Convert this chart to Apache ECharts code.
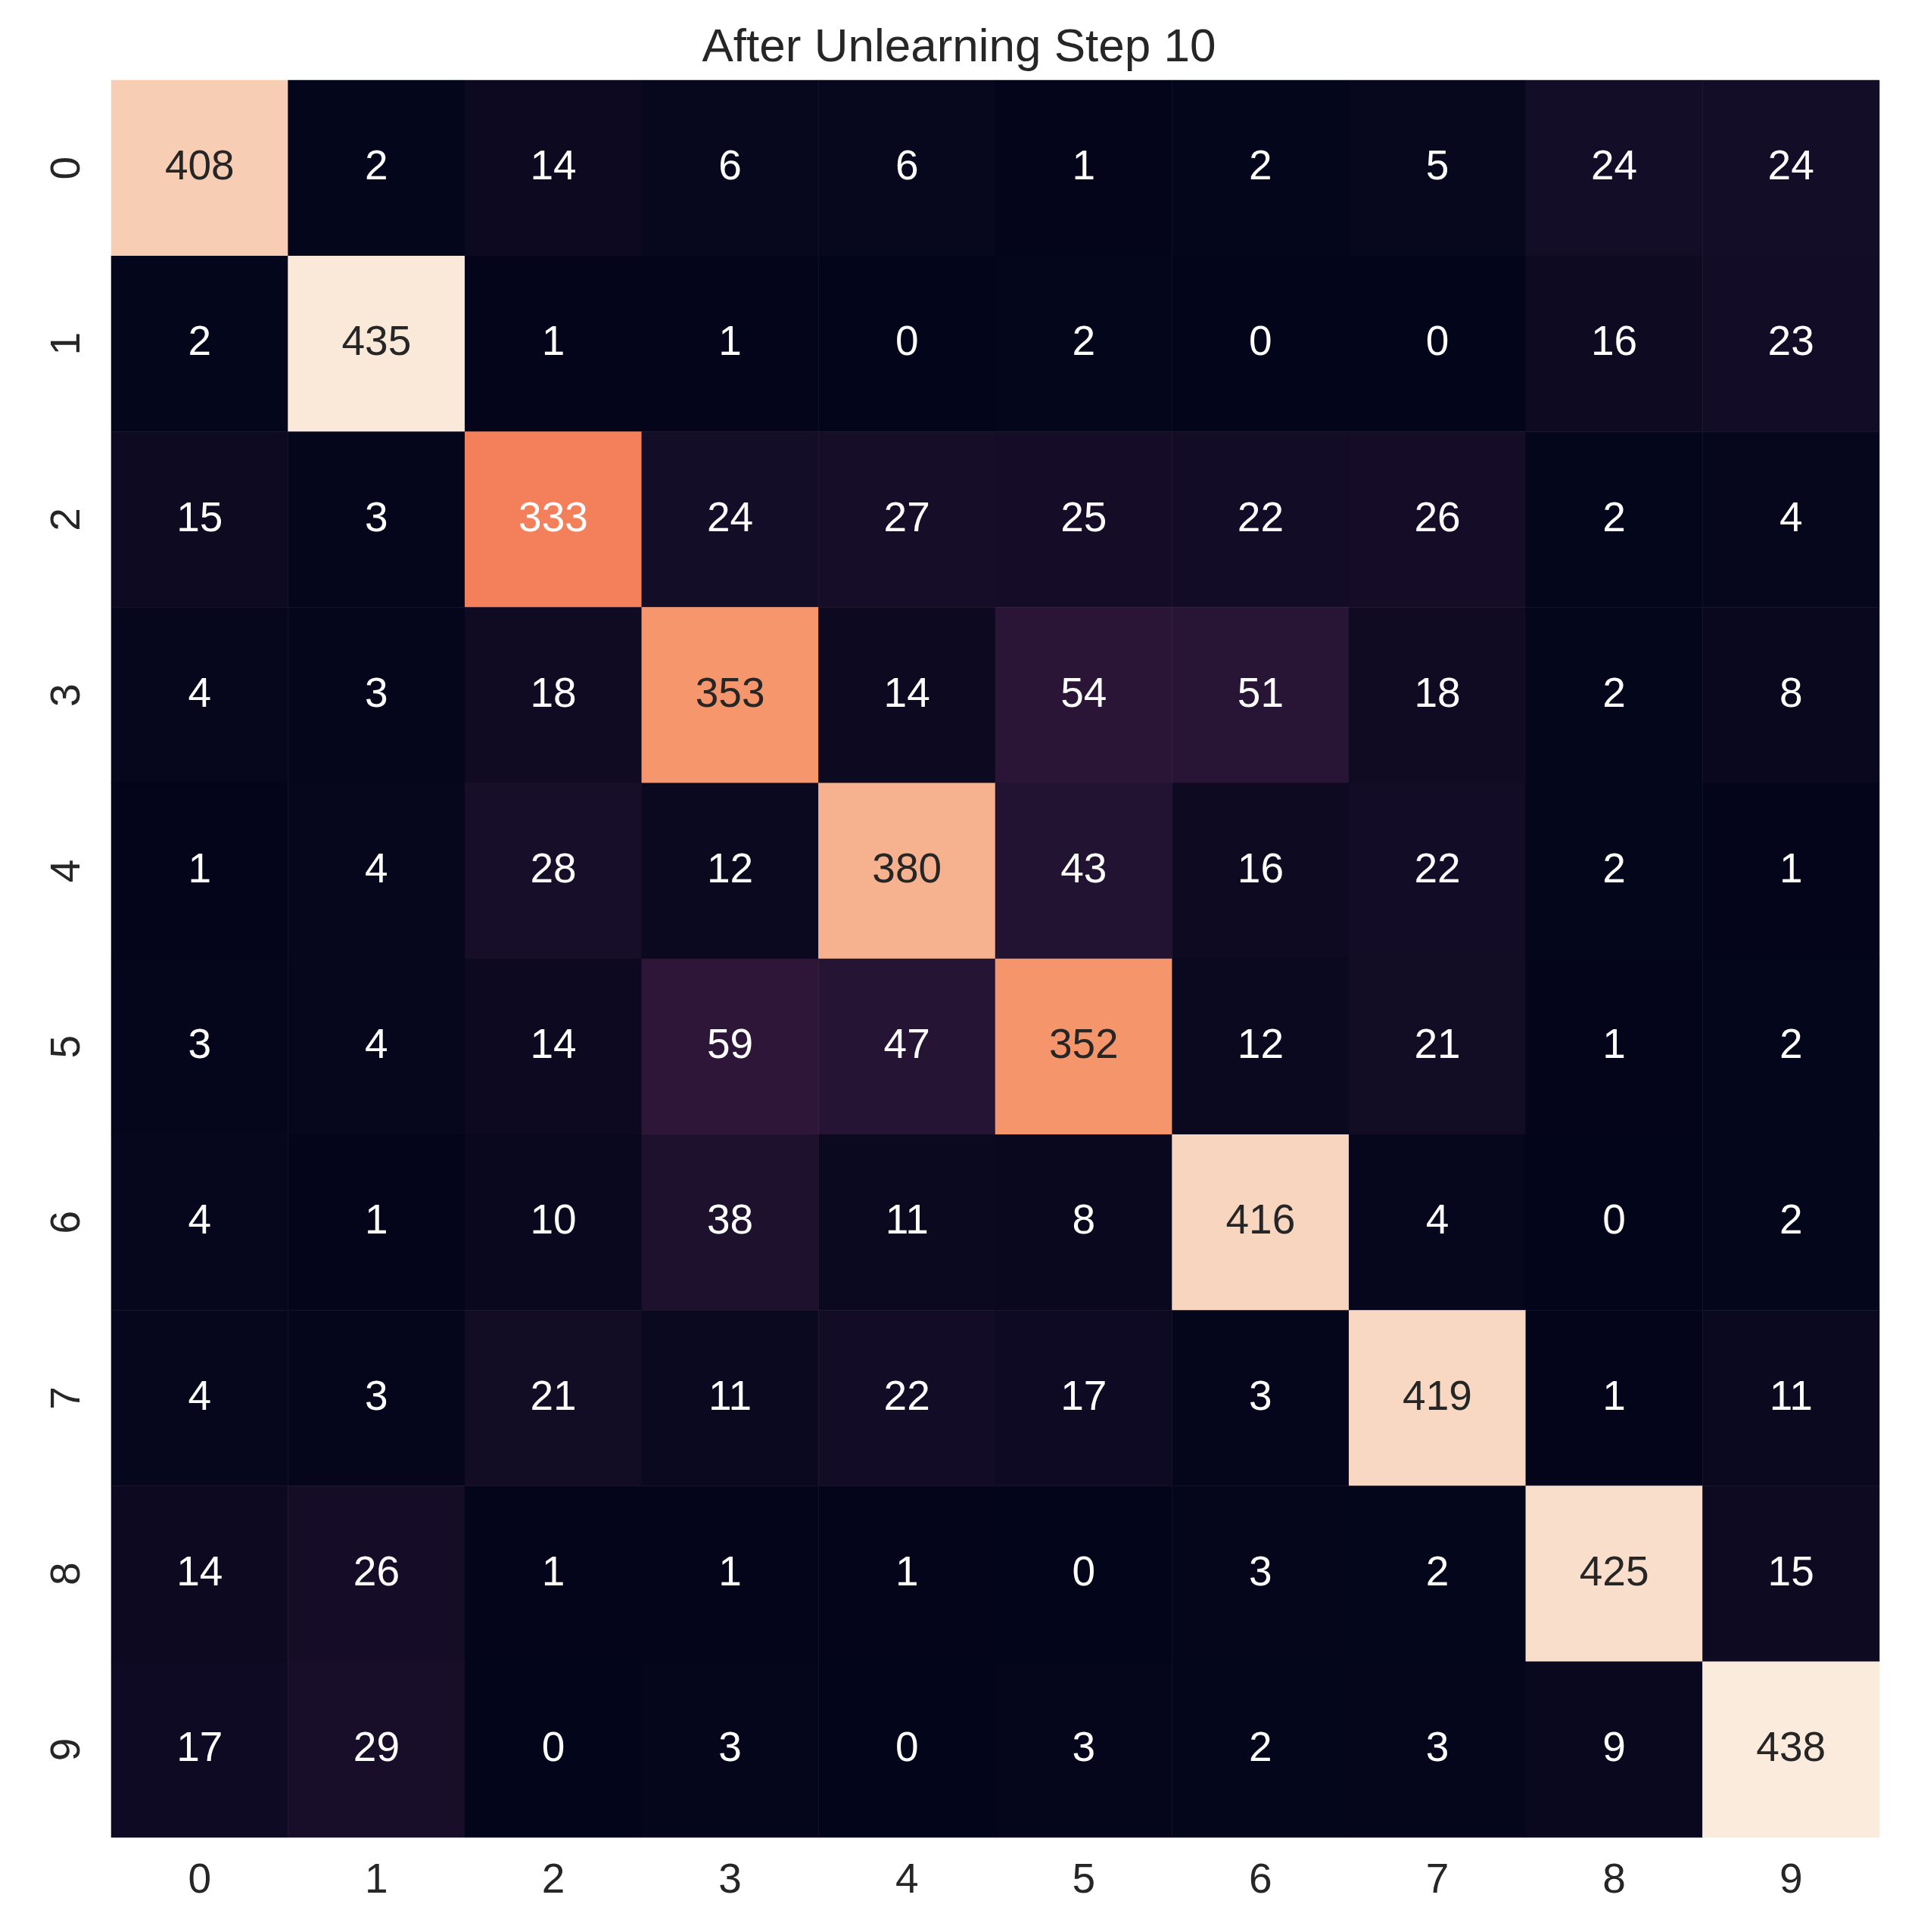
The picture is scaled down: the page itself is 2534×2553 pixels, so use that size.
<!DOCTYPE html>
<html><head><meta charset="utf-8">
<script src="https://cdn.jsdelivr.net/npm/echarts@6/dist/echarts.min.js"></script>
<style>html,body{margin:0;padding:0;background:#fff}#c{width:2534px;height:2553px}</style>
</head><body><div id="c"></div>
<script>
const xLabels = ['0','1','2','3','4','5','6','7','8','9'];
const yLabels = ['0','1','2','3','4','5','6','7','8','9'];
const matrix = [
 [408,2,14,6,6,1,2,5,24,24],
 [2,435,1,1,0,2,0,0,16,23],
 [15,3,333,24,27,25,22,26,2,4],
 [4,3,18,353,14,54,51,18,2,8],
 [1,4,28,12,380,43,16,22,2,1],
 [3,4,14,59,47,352,12,21,1,2],
 [4,1,10,38,11,8,416,4,0,2],
 [4,3,21,11,22,17,3,419,1,11],
 [14,26,1,1,1,0,3,2,425,15],
 [17,29,0,3,0,3,2,3,9,438]
];
const data = [];
matrix.forEach((row,r)=>row.forEach((v,c)=>{
  data.push({value:[c,r,v], label:{color: v>340 ? '#262626' : '#ffffff'}});
}));
const chart = echarts.init(document.getElementById('c'));
chart.setOption({
  backgroundColor:'#fff',
  title:{text:'After Unlearning Step 10', left:'center', top:28,
    textStyle:{fontFamily:'Liberation Sans, Arial', fontSize:62, fontWeight:'normal', color:'#262626'}},
  grid:{left:147, right:51, top:106, bottom:125},
  xAxis:{type:'category', data:xLabels, axisLine:{show:false}, axisTick:{show:false}, splitLine:{show:false},
    axisLabel:{fontFamily:'Liberation Sans, Arial', fontSize:55, color:'#262626', margin:30}},
  yAxis:{type:'category', data:yLabels, inverse:true, axisLine:{show:false}, axisTick:{show:false}, splitLine:{show:false},
    axisLabel:{fontFamily:'Liberation Sans, Arial', fontSize:55, color:'#262626', rotate:90, margin:30}},
  visualMap:{show:false, min:0, max:438, dimension:2,
    inRange:{color:['#03051A','#221331','#451C47','#6A1F56','#921C5B','#B91657','#DD2C45','#F06043','#F5936A','#F6BFA0','#FAEBDD']}},
  series:[{type:'heatmap', data:data,
    label:{show:true, fontFamily:'Liberation Sans, Arial', fontSize:55, formatter:p=>p.value[2]},
    itemStyle:{borderWidth:0}}]
});
</script></body></html>
